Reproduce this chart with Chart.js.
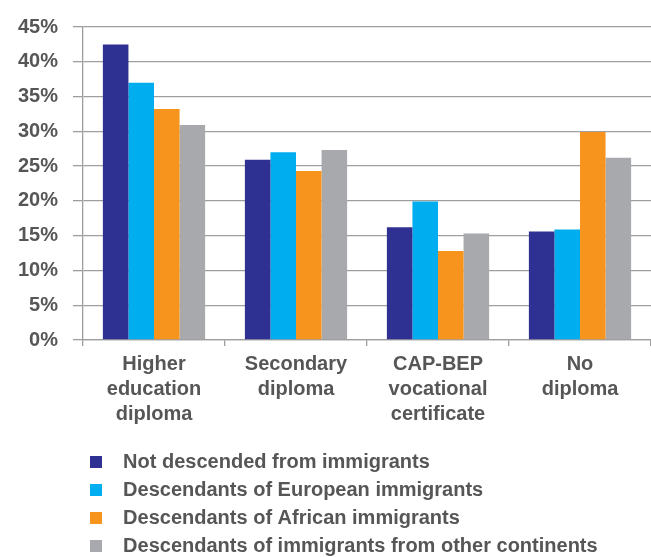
<!DOCTYPE html>
<html>
<head>
<meta charset="utf-8">
<title>Diplomas by origin</title>
<script src="https://cdn.jsdelivr.net/npm/chart.js@4.4.1/dist/chart.umd.min.js"></script>
<style>
  body { margin: 0; background: white; overflow: hidden; }
</style>
</head>
<body>
<canvas id="mychart" width="651" height="557"></canvas>
<script>
const categories = [
  ["Higher", "education", "diploma"],
  ["Secondary", "diploma"],
  ["CAP-BEP", "vocational", "certificate"],
  ["No", "diploma"]
];
const seriesNames = [
  "Not descended from immigrants",
  "Descendants of European immigrants",
  "Descendants of African immigrants",
  "Descendants of immigrants from other continents"
];
const notDescended = [42.5, 25.9, 16.2, 15.6];
const european = [37.0, 27.0, 19.9, 15.9];
const african = [33.2, 24.3, 12.8, 29.9];
const otherContinents = [30.9, 27.3, 15.3, 26.2];
const yTicks = [0, 5, 10, 15, 20, 25, 30, 35, 40, 45];

const colors = ["#2e3192", "#00aeef", "#f7941d", "#a7a9ac"];
const textColor = "#565656";
const gridColor = "#9e9e9e";
const fontFamily = "Arial, 'Liberation Sans', sans-serif";

let seriesValues = [notDescended, european, african, otherContinents];
let datasets = seriesValues.map(function(values, i) {
  return {
    label: seriesNames[i],
    data: values,
    backgroundColor: colors[i],
    borderWidth: 0,
    categoryPercentage: 0.72,
    barPercentage: 1.0
  };
});

// legend sits under the plot, lined up with the y axis
const legendShift = {
  id: "legendShift",
  beforeDraw(chart) {
    chart.legend.left = 82;
    chart.legend.top = 444;
  }
};

let ctx = document.getElementById("mychart").getContext("2d");
let myChart = new Chart(ctx, {
  type: "bar",
  data: {
    labels: categories,
    datasets: datasets
  },
  plugins: [legendShift],
  options: {
    responsive: false,
    animation: false,
    layout: { padding: { top: 25, right: 0, bottom: 0, left: 0 } },
    plugins: {
      tooltip: { enabled: false },
      legend: {
        position: "bottom",
        align: "start",
        labels: {
          boxWidth: 12,
          boxHeight: 12,
          padding: 8,
          color: textColor,
          font: { family: fontFamily, size: 20, weight: "bold" },
          generateLabels: function(chart) {
            let items = Chart.defaults.plugins.legend.labels.generateLabels(chart);
            items.forEach(item => { item.text = "  " + item.text; });
            return items;
          }
        }
      }
    },
    scales: {
      x: {
        grid: {
          drawOnChartArea: false,
          drawTicks: true,
          tickLength: 6,
          color: gridColor,
          lineWidth: 1.3
        },
        border: { color: gridColor, width: 1.3 },
        ticks: {
          padding: 6,
          color: textColor,
          maxRotation: 0,
          autoSkip: false,
          font: { family: fontFamily, size: 20, weight: "bold", lineHeight: "25px" }
        },
        afterFit: function(scale) { scale.height = 95; }
      },
      y: {
        min: 0,
        max: 45,
        afterBuildTicks: function(scale) {
          scale.ticks = yTicks.map(v => ({ value: v }));
        },
        grid: {
          color: gridColor,
          lineWidth: 1.3,
          tickLength: 10
        },
        border: { color: gridColor, width: 1.3 },
        ticks: {
          padding: 15,
          color: textColor,
          font: { family: fontFamily, size: 20, weight: "bold" },
          callback: function(value) { return value + "%"; }
        },
        afterFit: function(scale) { scale.width = 83; }
      }
    }
  }
});
</script>
</body>
</html>
